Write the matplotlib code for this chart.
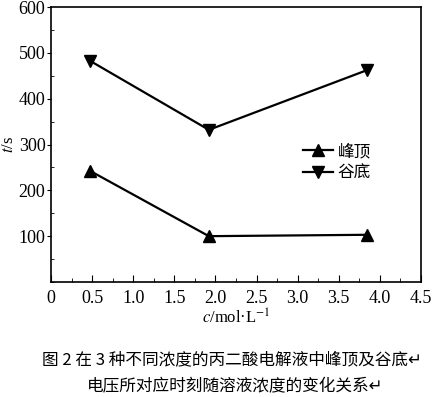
import matplotlib.pyplot as plt
from matplotlib.ticker import MultipleLocator

# data
conc = [0.48, 1.92, 3.84]
peak_t = [242, 100, 103]
valley_t = [482, 332, 462]
series_names = ["峰顶", "谷底"]
caption = ["图 2 在 3 种不同浓度的丙二酸电解液中峰顶及谷底↵",
           "电压所对应时刻随溶液浓度的变化关系↵"]

cjk = ["Noto Sans CJK SC", "DejaVu Sans"]
serif = "Liberation Serif"
plt.rcParams["mathtext.fontset"] = "stix"

fig = plt.figure(figsize=(4.35, 3.97), dpi=100)
ax = fig.add_axes([51 / 435, 1 - 282 / 397, 370 / 435, 275 / 397])

ax.plot(conc, peak_t, color="black", lw=1.6, marker="^", ms=9, label=series_names[0])
ax.plot(conc, valley_t, color="black", lw=1.6, marker="v", ms=9, label=series_names[1])

ax.set_xlim(0, 4.5)
ax.set_ylim(0, 600)
ax.xaxis.set_minor_locator(MultipleLocator(0.25))
ax.yaxis.set_minor_locator(MultipleLocator(50))
ax.set_xticks([0, 0.5, 1, 1.5, 2, 2.5, 3, 3.5, 4, 4.5])
ax.set_xticklabels(["0", "0.5", "1.0", "1.5", "2.0", "2.5", "3.0", "3.5", "4.0", "4.5"])
ax.set_yticks([100, 200, 300, 400, 500, 600])
ax.tick_params(axis="x", which="both", direction="in", top=False)
ax.tick_params(axis="x", which="major", length=5, pad=6)
ax.tick_params(axis="x", which="minor", length=3)
ax.tick_params(axis="y", which="major", direction="out", length=3, pad=1)
ax.tick_params(axis="y", which="minor", direction="in", length=2)
for lbl in ax.get_xticklabels() + ax.get_yticklabels():
    lbl.set_fontfamily(serif)
    lbl.set_fontsize(13)
for s in ax.spines.values():
    s.set_linewidth(1.2)

ax.set_xlabel(r"$c$/mol·L$^{-1}$", fontfamily=serif, fontsize=12, labelpad=1)
ax.set_ylabel(r"$t$/s", fontfamily=serif, fontsize=12, labelpad=1)

leg = ax.legend(loc="upper left", bbox_to_anchor=(0.64, 0.56), frameon=False,
                prop={"family": cjk, "size": 12}, handlelength=1.8,
                handletextpad=0.3, labelspacing=0.3)

fig.text(232 / 435, 1 - 360 / 397, caption[0], ha="center", va="center",
         fontsize=12, family=cjk)
fig.text(235 / 435, 1 - 387 / 397, caption[1], ha="center", va="center",
         fontsize=12, family=cjk)

fig.savefig("out.png", dpi=100)
